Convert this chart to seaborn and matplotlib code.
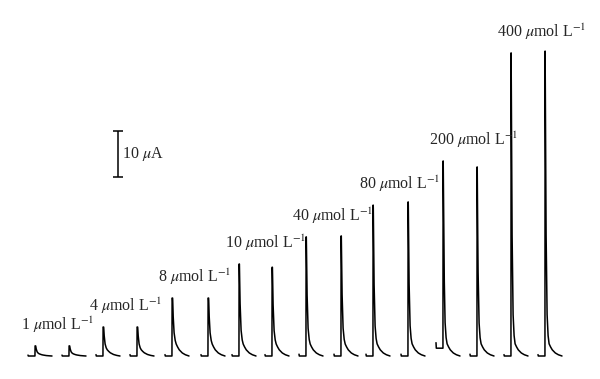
import numpy as np
import pandas as pd
import matplotlib.pyplot as plt
import seaborn as sns

# concentrations, each injected twice
conc = ['1', '4', '8', '10', '40', '80', '200', '400']
# time of each peak maximum (s)
peak_t = [35, 69, 103, 137, 172, 208, 239, 272, 306, 341, 373, 408, 443, 477, 511, 545]
# peak current above baseline (uA)
peak_i = [2.2, 2.2, 6.3, 6.3, 12.6, 12.6, 20.0, 19.3, 25.9, 26.1, 32.8, 33.5, 42.4, 41.1, 65.9, 66.3]
# level before the injection (uA)
pre_i = [0, 0, 0, 0, 0, 0, 0, 0, 0, 0, 0, 0, 1.7, 0, 0, 0]
# small switching spike at start of each record (uA)
hook_i = [0.2, 0.2, 0.3, 0.3, 0.3, 0.3, 0.3, 0.3, 0.4, 0.4, 0.4, 0.4, 1.2, 0.4, 0.3, 0.3]

# decay after the maximum
fast_t = [0, 1, 2, 3, 4]
fast_f = [1, 0.35, 0.08, 0.02, 0]
slow_t = [0, 1, 2, 3, 4, 5, 7, 10, 13, 17]
slow_i = [6, 5, 4.2, 3.3, 2.7, 2.2, 1.4, 0.7, 0.3, 0]

sns.set_style("white")
plt.rcParams['font.family'] = ['Liberation Serif', 'DejaVu Serif']
plt.rcParams['mathtext.fontset'] = 'stix'

# build one record per injection
tt = np.arange(0, 17.01, 0.1)
frames = []
for k, (t0, h, pre, hook) in enumerate(zip(peak_t, peak_i, pre_i, hook_i)):
    tail = h * np.interp(tt, fast_t, fast_f) + min(1, h / 12) * np.interp(tt, slow_t, slow_i)
    tail = np.minimum(tail, h)
    ts = np.concatenate([[t0 - 7, t0 - 6.7, t0 - 0.05], t0 + tt])
    ys = np.concatenate([[pre + hook, pre, pre], tail])
    frames.append(pd.DataFrame({'t': ts, 'i': ys, 'rec': k}))
df = pd.concat(frames, ignore_index=True)

fig = plt.figure(figsize=(6, 3.79), dpi=100)
ax = fig.add_axes([0, 0, 1, 1])
sns.lineplot(data=df, x='t', y='i', units='rec', estimator=None, sort=False,
             color='black', lw=1.1, ax=ax)
ax.set_xlim(0, 600)
ax.set_ylim(-5.0, 77.4)
ax.axis('off')

# concentration labels above the first peak of each pair
for n, c in enumerate(conc):
    ax.annotate(f"{c} $\\mu$mol L$^{{-1}}$", xy=(peak_t[2 * n], peak_i[2 * n]),
                xytext=(-14, 16), textcoords='offset pixels',
                ha='left', va='baseline', fontsize=11.5)

# scale bar
bar_t, bar_lo, bar_len = 118, 39, 10
ax.vlines(bar_t, bar_lo, bar_lo + bar_len, color='black', lw=1.1)
ax.hlines([bar_lo, bar_lo + bar_len], bar_t - 5, bar_t + 5, color='black', lw=1.1)
ax.annotate("10 $\\mu$A", xy=(bar_t, bar_lo + bar_len / 2), xytext=(4, 0),
            textcoords='offset pixels', ha='left', va='center', fontsize=11.5)

fig.savefig("out.png", dpi=100, facecolor='white')
